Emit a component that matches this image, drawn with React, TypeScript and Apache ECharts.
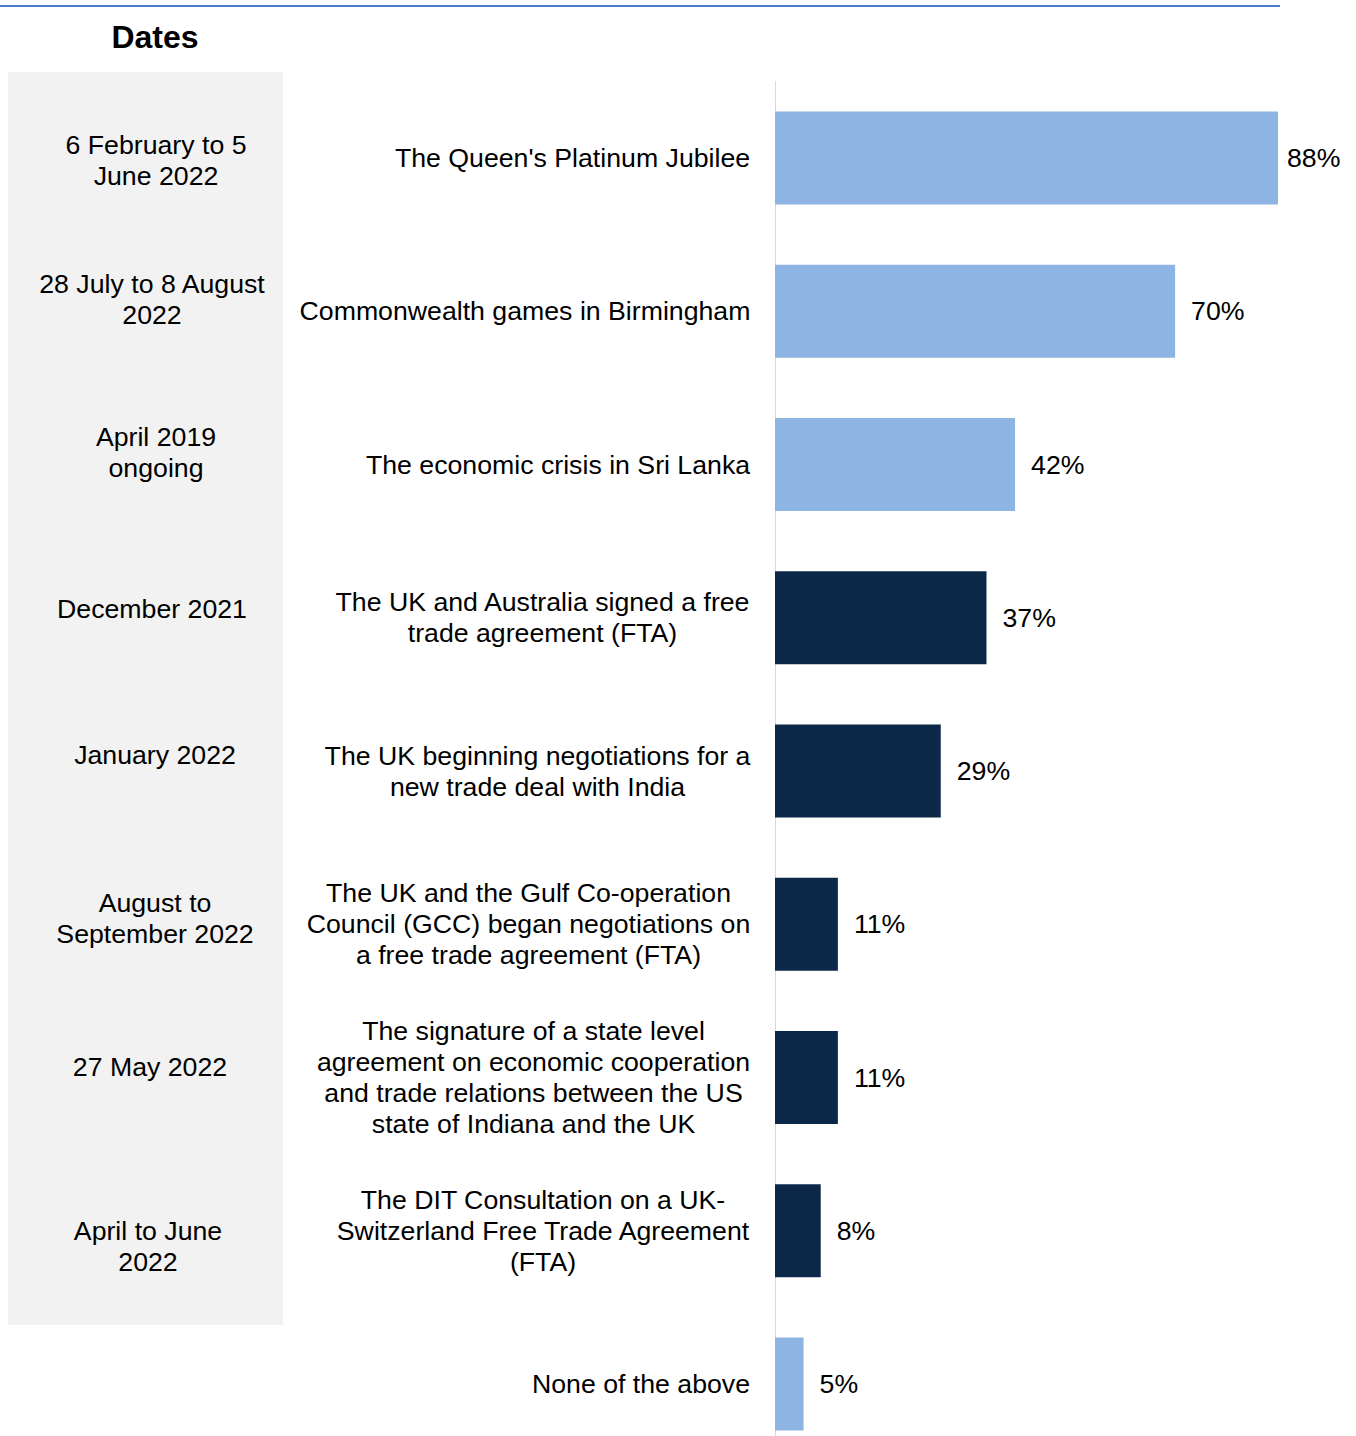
import React, { useEffect, useRef } from "react";
import * as echarts from "echarts";

const categories = [
  "The Queen's Platinum Jubilee",
  "Commonwealth games in Birmingham",
  "The economic crisis in Sri Lanka",
  "The UK and Australia signed a free\ntrade agreement (FTA)",
  "The UK beginning negotiations for a\nnew trade deal with India",
  "The UK and the Gulf Co-operation\nCouncil (GCC) began negotiations on\na free trade agreement (FTA)",
  "The signature of a state level\nagreement on economic cooperation\nand trade relations between the US\nstate of Indiana and the UK",
  "The DIT Consultation on a UK-\nSwitzerland Free Trade Agreement\n(FTA)",
  "None of the above",
];

const dates = [
  "6 February to 5\nJune 2022",
  "28 July to 8 August\n2022",
  "April 2019\nongoing",
  "December 2021",
  "January 2022",
  "August to\nSeptember 2022",
  "27 May 2022",
  "April to June\n2022",
  "",
];

const values = [88, 70, 42, 37, 29, 11, 11, 8, 5];
const groups = ["light", "light", "light", "dark", "dark", "dark", "dark", "dark", "light"];

const LIGHT = "#8EB4E3";
const DARK = "#0B2849";
const FONT_NAME = "Liberation Sans";
const FONT = "'Liberation Sans', Arial, sans-serif";
const FS = 26.7;
const LH = 31;

// nudges of the date texts relative to the bar centre (px)
const dateShiftY = [2, -12, -12, -9, -16, -6, -11, 16, 0];
const dateShiftX = [2, -2, 2, -2, 1, 1, -4, -6, 0];

function measure(text: string): number {
  const c = document.createElement("canvas").getContext("2d");
  if (!c) return text.length * FS * 0.5;
  c.font = `${FS}px "${FONT_NAME}"`;
  return Math.max(...text.split("\n").map((l) => c.measureText(l).width));
}

export default function App() {
  const ref = useRef<HTMLDivElement>(null);
  useEffect(() => {
    if (!ref.current) return;
    const chart = echarts.init(ref.current, null, { renderer: "svg" });

    const rich: Record<string, any> = {};
    categories.forEach((c, i) => {
      rich["r" + i] = {
        width: Math.ceil(measure(c)) + 1,
        align: "center",
        fontSize: FS,
        lineHeight: LH,
        fontFamily: FONT,
        color: "#000",
      };
    });

    const baseGraphic: any[] = [
      {
        type: "rect",
        shape: { x: 8, y: 72, width: 275, height: 1253 },
        style: { fill: "#F2F2F2" },
        z: -10,
        silent: true,
      },
      {
        type: "line",
        shape: { x1: 0, y1: 6, x2: 1280, y2: 6 },
        style: { stroke: "#4A7EC8", lineWidth: 2 },
      },
      {
        type: "text",
        x: 155,
        y: 37,
        style: {
          text: "Dates",
          font: `bold 32px ${FONT}`,
          fill: "#000",
          textAlign: "center",
          textVerticalAlign: "middle",
        },
      },
    ];

    chart.setOption({
      animation: false,
      backgroundColor: "#ffffff",
      graphic: baseGraphic,
      grid: {
        left: 775,
        top: 81.4,
        width: 571.6,
        height: 1379.25,
        containLabel: false,
        outerBoundsMode: "none",
      },
      xAxis: {
        type: "value",
        min: 0,
        max: 100,
        show: false,
        splitLine: { show: false },
      },
      yAxis: {
        type: "category",
        inverse: true,
        data: categories,
        axisLine: { show: true, lineStyle: { color: "#D9D9D9", width: 1 } },
        axisTick: { show: false },
        axisLabel: {
          margin: 24,
          fontSize: FS,
          lineHeight: LH,
          color: "#000",
          fontFamily: FONT,
          align: "right",
          interval: 0,
          formatter: (val: string, idx: number) =>
            val
              .split("\n")
              .map((l) => `{r${idx}|${l}}`)
              .join("\n"),
          rich,
        },
      },
      series: [
        {
          type: "bar",
          barWidth: 93,
          data: values.map((v, i) => ({
            value: v,
            itemStyle: { color: groups[i] === "dark" ? DARK : LIGHT },
            label: i === 0 ? { distance: 9 } : undefined,
          })),
          label: {
            show: true,
            position: "right",
            distance: 16,
            formatter: "{c}%",
            fontSize: FS,
            color: "#000",
            fontFamily: FONT,
          },
        },
      ],
    });

    const dateTexts = dates
      .map((d, i) => {
        if (!d) return null;
        const y = chart.convertToPixel({ yAxisIndex: 0 }, i) as number;
        return {
          type: "text",
          x: 154 + dateShiftX[i],
          y: y + dateShiftY[i],
          style: {
            text: d,
            font: `${FS}px ${FONT}`,
            lineHeight: LH,
            fill: "#000",
            textAlign: "center",
            textVerticalAlign: "middle",
          },
        };
      })
      .filter(Boolean);

    chart.setOption({ graphic: [...baseGraphic, ...dateTexts] });

    return () => chart.dispose();
  }, []);
  return (
    <div
      ref={ref}
      style={{ position: "absolute", left: 0, top: 0, width: 1356, height: 1436 }}
    />
  );
}
